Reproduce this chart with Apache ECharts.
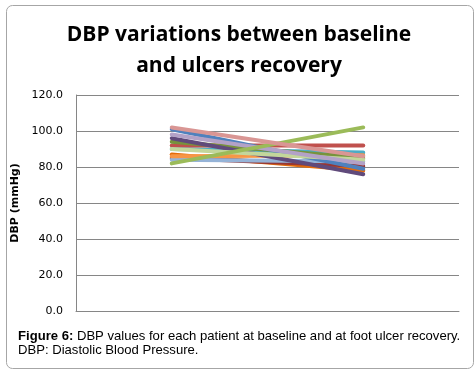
<!DOCTYPE html>
<html>
<head>
<meta charset="utf-8">
<script src="https://cdn.jsdelivr.net/npm/echarts@6/dist/echarts.min.js"></script>
<style>
html,body{margin:0;padding:0;background:#fff;}
#chart{width:476px;height:370px;}
</style>
</head>
<body>
<div id="chart"></div>
<script>
// Categories: the two time points (labels not shown on the original axis)
const categories = ["Baseline", "Ulcer recovery"];
const yTicks = [0, 20, 40, 60, 80, 100, 120];

// DBP per patient: [baseline, recovery]
const patient01 = [101, 79];
const patient02 = [92, 92];
const patient03 = [82, 102];
const patient04 = [96, 76];
const patient05 = [90, 88];
const patient06 = [86, 86.5];
const patient07 = [84, 83];
const patient08 = [85, 80.5];
const patient09 = [94, 85];
const patient10 = [98, 82];
const patient11 = [102, 86];
const patient12 = [90, 84];
const patient13 = [87, 78];

const patients = [patient01, patient02, patient03, patient04, patient05, patient06, patient07,
                  patient08, patient09, patient10, patient11, patient12, patient13];
const colors = ["#4F81BD", "#C0504D", "#9BBB59", "#604A7B", "#4BACC6", "#F79646", "#95B3D7",
                "#953735", "#77933C", "#B3A2C7", "#D99694", "#C3D69B", "#E46C0A"];
// draw order so that the picture layering resembles the original
const order = [12, 7, 4, 6, 5, 1, 8, 3, 0, 11, 9, 2, 10];

const chart = echarts.init(document.getElementById('chart'));
const series = order.map(i => ({
  type: 'line',
  name: 'Patient ' + (i + 1),
  data: patients[i],
  symbol: 'none',
  lineStyle: { width: 4, color: colors[i], cap: 'round' },
  itemStyle: { color: colors[i] },
  animation: false
}));

chart.setOption({
  animation: false,
  title: [{
    text: 'DBP variations between baseline\nand ulcers recovery',
    left: 234, top: 15, textAlign: 'center',
    textStyle: { fontFamily: 'Open Sans', fontWeight: 'bold', fontSize: 21, lineHeight: 31, color: '#000' }
  }, {
    text: '{b|Figure 6:} DBP values for each patient at baseline and at foot ulcer recovery.\nDBP: Diastolic Blood Pressure.',
    left: 13, top: 324,
    textStyle: {
      fontFamily: 'Liberation Sans', fontSize: 13.1, lineHeight: 14.5, color: '#000', fontWeight: 'normal',
      rich: { b: { fontFamily: 'Liberation Sans', fontSize: 13.1, fontWeight: 'bold', color: '#000', lineHeight: 14.5 } }
    }
  }],
  graphic: [{
    type: 'rect', left: 4, top: 3,
    shape: { width: 467, height: 363, r: 6 },
    style: { fill: 'none', stroke: '#a6a6a6', lineWidth: 1 },
    silent: true
  }],
  grid: { left: 76, right: 17, top: 95, bottom: 59, containLabel: false },
  xAxis: {
    type: 'category', data: categories, boundaryGap: true,
    axisLine: { show: true, lineStyle: { color: '#868686', width: 1 } },
    axisTick: { show: false }, axisLabel: { show: false }
  },
  yAxis: {
    type: 'value', min: yTicks[0], max: yTicks[yTicks.length - 1], interval: 20,
    name: 'DBP (mmHg)', nameLocation: 'middle', nameGap: 54, nameRotate: 90,
    nameTextStyle: { fontFamily: 'DejaVu Sans', fontWeight: 'bold', fontSize: 11, color: '#000' },
    axisLine: { show: true, lineStyle: { color: '#868686', width: 1 } },
    axisTick: { show: false },
    axisLabel: { margin: 13, fontFamily: 'DejaVu Sans', fontSize: 11, color: '#000',
                 formatter: v => v.toFixed(1) },
    splitLine: { show: true, lineStyle: { color: '#868686', width: 1 } }
  },
  series: series
});
</script>
</body>
</html>
